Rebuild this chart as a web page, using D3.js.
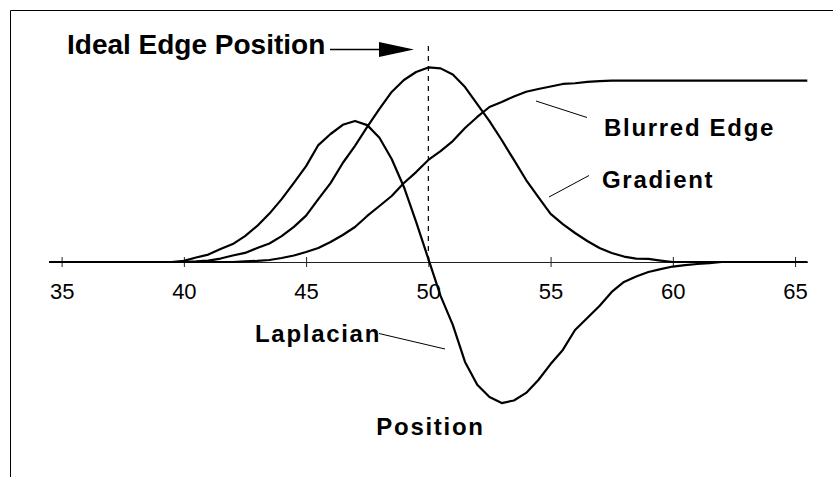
<!DOCTYPE html>
<html>
<head>
<meta charset="utf-8">
<script src="https://cdn.jsdelivr.net/npm/d3@7"></script>
<style>
  html, body { margin: 0; padding: 0; background: #fff; }
  svg { display: block; }
  .lbl { font-family: "Liberation Sans", Arial, sans-serif; font-weight: bold; font-size: 24px; letter-spacing: 1.7px; fill: #000; }
  .tick text { font-family: "Liberation Sans", Arial, sans-serif; font-size: 22px; fill: #000; }
</style>
</head>
<body>
<svg id="chart" width="833" height="477"></svg>
<script>
// Sample positions across the edge (half-unit steps)
const positions = [34.5, 35, 35.5, 36, 36.5, 37, 37.5, 38, 38.5, 39, 39.5, 40, 40.5, 41, 41.5, 42,
  42.5, 43, 43.5, 44, 44.5, 45, 45.5, 46, 46.5, 47, 47.5, 48, 48.5, 49, 49.5, 50, 50.5, 51, 51.5,
  52, 52.5, 53, 53.5, 54, 54.5, 55, 55.5, 56, 56.5, 57, 57.5, 58, 58.5, 59, 59.5, 60, 60.5, 61,
  61.5, 62, 62.5, 63, 63.5, 64, 64.5, 65, 65.5];

// Intensity profile of the blurred edge
const blurredEdge = [0, 0, 0, 0, 0, 0, 0, 0, 0, 0, 0, 0, 0, 0, 0, 0,
  0.3, 0.6, 1.1, 2.2, 3.6, 5.5, 7.7, 11.0, 14.9, 19.3, 25.4, 30.9, 36.4, 43.6, 49.6, 56.3, 61.2,
  66.7, 73.9, 80.0, 85.5, 88.3, 91.3, 93.9, 95.4, 96.8, 98.2, 98.6, 99.3, 99.8,
  100, 100, 100, 100, 100, 100, 100, 100, 100, 100, 100, 100, 100, 100, 100, 100, 100];

// First derivative (gradient) of the profile
const gradient = [0, 0, 0, 0, 0, 0, 0, 0, 0, 0, 0, 0,
  0.3, 0.8, 1.9, 3.6, 5.0, 7.7, 10.2, 14.3, 19.4, 25.6, 34.7, 43.5, 54.6, 64.0, 74.5, 84.4, 93.8,
  100.4, 104.8, 107.3, 106.8, 103.4, 96.5, 87.1, 77.7, 67.3, 56.3, 45.2, 35.8, 26.5, 20.9, 16.0,
  11.6, 7.7, 5.0, 3.0, 1.9, 1.7, 0.8,
  0, 0, 0, 0, 0, 0, 0, 0, 0, 0, 0, 0];

// Second derivative (Laplacian) of the profile
const laplacian = [0, 0, 0, 0, 0, 0, 0, 0, 0, 0, 0,
  0.6, 2.5, 4.1, 7.2, 9.9, 14.3, 19.9, 26.7, 34.7, 43.6, 52.9, 64.5, 70.6, 75.7, 77.8, 75.5, 68.5,
  56.8, 41.4, 22.1, 1.7, -18.7, -34.7, -55.1, -67.7, -74.5, -77.8, -76.4, -72.2, -65.1, -56.3,
  -48.5, -37.5, -30.9, -24.3, -16.5, -11.0, -8.0, -5.5, -3.9, -2.5, -1.7, -1.1, -0.6,
  0, 0, 0, 0, 0, 0, 0, 0];

const tickValues = [35, 40, 45, 50, 55, 60, 65];
const idealEdge = 50;

const svg = d3.select("#chart");

const x = d3.scaleLinear().domain([34.5, 65.5]).range([49.4, 807.3]);
const y = d3.scaleLinear().domain([-100, 100]).range([443.3, 80.7]);

// Frame
svg.append("line").attr("x1", 10.5).attr("y1", 10.5).attr("x2", 10.5).attr("y2", 477)
  .attr("stroke", "#000").attr("stroke-width", 1);
svg.append("line").attr("x1", 10.5).attr("y1", 10.5).attr("x2", 833).attr("y2", 10.5)
  .attr("stroke", "#000").attr("stroke-width", 1);

// Horizontal axis through zero with ticks crossing the line
const axis = d3.axisBottom(x).tickValues(tickValues).tickSize(5).tickSizeOuter(0).tickFormat(d3.format("d"));
const axisG = svg.append("g").attr("transform", `translate(0,${y(0)})`).call(axis);
axisG.select(".domain").attr("stroke", "#222").attr("stroke-width", 1);
axisG.selectAll(".tick line").attr("y1", -5).attr("y2", 5).attr("stroke", "#222");
axisG.selectAll(".tick text").attr("y", 37).attr("dy", null);
axisG.attr("font-family", null).attr("font-size", null);

// Ideal edge marker
svg.append("line")
  .attr("x1", x(idealEdge)).attr("x2", x(idealEdge))
  .attr("y1", 46).attr("y2", y(0))
  .attr("stroke", "#000").attr("stroke-width", 1.2)
  .attr("stroke-dasharray", "5,5");

// Curves
const line = d3.line().x((d, i) => x(positions[i])).y(d => y(d));
[blurredEdge, gradient, laplacian].forEach(series => {
  svg.append("path").datum(series)
    .attr("d", line)
    .attr("fill", "none")
    .attr("stroke", "#000")
    .attr("stroke-width", 2.2)
    .attr("stroke-linejoin", "round");
});

// Labels with leader lines
svg.append("text").attr("class", "lbl").attr("x", 67).attr("y", 54)
  .style("font-size", "28px").style("letter-spacing", "0px")
  .text("Ideal Edge Position");
svg.append("line").attr("x1", 330).attr("y1", 49.5).attr("x2", 382).attr("y2", 49.5)
  .attr("stroke", "#000").attr("stroke-width", 1.6);
svg.append("path").attr("d", "M379,42 L414,49.5 L379,57 Z").attr("fill", "#000");

svg.append("text").attr("class", "lbl").attr("x", 604).attr("y", 136).text("Blurred Edge");
svg.append("line").attr("x1", 536).attr("y1", 101).attr("x2", 587).attr("y2", 117.5)
  .attr("stroke", "#000").attr("stroke-width", 1);

svg.append("text").attr("class", "lbl").attr("x", 602).attr("y", 188).text("Gradient");
svg.append("line").attr("x1", 549).attr("y1", 197).attr("x2", 589).attr("y2", 175.5)
  .attr("stroke", "#000").attr("stroke-width", 1);

svg.append("text").attr("class", "lbl").attr("x", 255).attr("y", 342).text("Laplacian");
svg.append("line").attr("x1", 379).attr("y1", 333.5).attr("x2", 445).attr("y2", 349)
  .attr("stroke", "#000").attr("stroke-width", 1);

svg.append("text").attr("class", "lbl").attr("x", 430.5).attr("y", 435)
  .attr("text-anchor", "middle").text("Position");
</script>
</body>
</html>
